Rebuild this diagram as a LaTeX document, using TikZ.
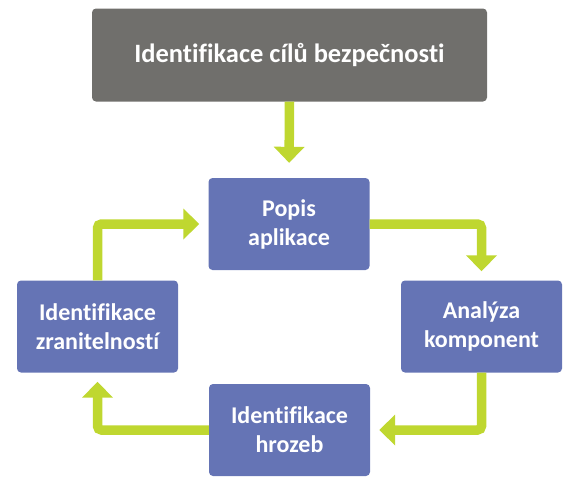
\documentclass[tikz,border=0pt]{standalone}
\usepackage{fontspec}
\setmainfont{Carlito}[Ligatures=NoCommon]
\usetikzlibrary{arrows.meta}
\definecolor{boxgray}{HTML}{706F6C}
\definecolor{boxblue}{HTML}{6574B5}
\definecolor{arrowgreen}{HTML}{BFD730}
\newcommand\BoxFont{\fontsize{24}{29}\selectfont\bfseries}

\begin{document}
\begin{tikzpicture}[x=1pt,y=-1pt,
  stepbox/.style={fill=boxblue, rounded corners=4pt, text=white, align=center,
    inner sep=0pt, minimum width=161pt, minimum height=92pt, font=\BoxFont},
  goalbox/.style={stepbox, fill=boxgray, minimum width=395pt, minimum height=93pt,
    font=\fontsize{26.5}{31}\selectfont\bfseries},
  flow/.style={draw=arrowgreen, line width=9.5pt, rounded corners=4pt,
    -{Triangle[width=30pt,length=16pt]}, shorten >=9pt}]
\useasboundingbox (0,0) rectangle (568,477);
% Drawing boxes
\node[goalbox] (goals) at (289.5,55) {Identifikace cílů bezpečnosti};
\node[stepbox] (popis) at (289,224) {Popis\\aplikace};
\node[stepbox] (analyza) at (481.5,326.5) {Analýza\\komponent};
\node[stepbox] (hrozby) at (289.5,430) {Identifikace\\hrozeb};
\node[stepbox] (zranitelnosti) at (97.5,326.5) {Identifikace\\zranitelností};
% Done with boxes; drawing arrows
\draw[flow, shorten >=15pt] (goals.south) -- (popis.north);
\draw[flow] (popis.east) -| (analyza.north);
\draw[flow] (analyza.south) |- (hrozby.east);
\draw[flow] (hrozby.west) -| (zranitelnosti.south);
\draw[flow] (zranitelnosti.north) |- (popis.west);
% Done with arrows
\end{tikzpicture}
\end{document}
